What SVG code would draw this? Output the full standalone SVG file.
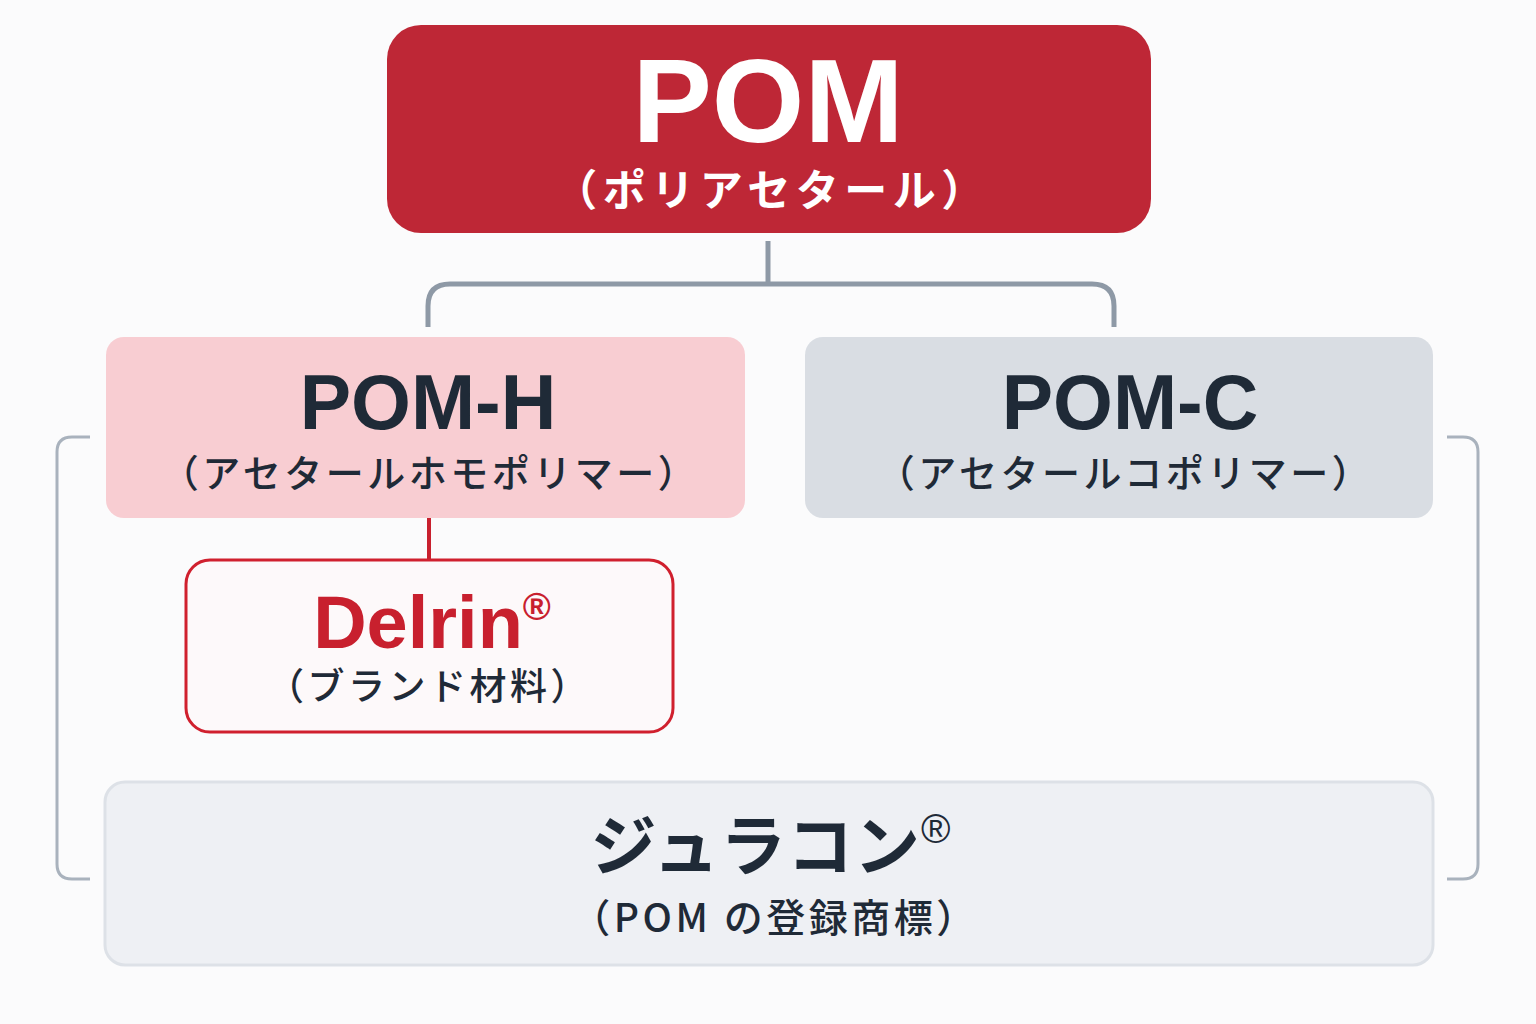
<svg xmlns="http://www.w3.org/2000/svg" width="1536" height="1024" viewBox="0 0 1536 1024">
<style>
.lat{font-family:"Liberation Sans",Arial,sans-serif;font-weight:bold;text-anchor:middle}
.jp{font-family:"Noto Sans CJK JP","Noto Sans",sans-serif;text-anchor:middle;font-weight:500}
.jpb{font-family:"Noto Sans CJK JP","Noto Sans",sans-serif;text-anchor:middle;font-weight:bold}
.dark{fill:#1F2A37}
.gray{fill:none;stroke:#8E99A6;stroke-width:5;stroke-linecap:butt}
.brk{fill:none;stroke:#A9B2BD;stroke-width:3}
.reg{font-family:"Liberation Sans",Arial,sans-serif;font-weight:normal}
</style>
<rect width="1536" height="1024" fill="#FBFBFC"/>
<g id="connectors">
<path class="gray" d="M768 241 V283"/>
<path class="gray" d="M428 327 V306 Q428 284 450 284 H1092 Q1114 284 1114 306 V327"/>
<path d="M429 518 V560" stroke="#C8202E" stroke-width="4" fill="none"/>
<path class="brk" d="M90 437 H72 Q57 437 57 452 V864 Q57 879 72 879 H90"/>
<path class="brk" d="M1447 437 H1463 Q1478 437 1478 452 V864 Q1478 879 1463 879 H1447"/>
</g>
<g id="pom">
<rect x="387" y="25" width="764" height="208" rx="34" fill="#BE2736"/>
<text x="768" y="142" class="lat" font-size="119" fill="#FFFFFF">POM</text>
<text x="772" y="206" class="jpb" font-size="43" fill="#FFFFFF" letter-spacing="5.5">（ポリアセタール）</text>
</g>
<g id="pomh">
<rect x="106" y="337" width="639" height="181" rx="18" fill="#F8CDD2"/>
<text x="428" y="429" class="lat dark" font-size="77">POM-H</text>
<text x="430" y="487" class="jp dark" font-size="38" letter-spacing="3.5">（アセタールホモポリマー）</text>
</g>
<g id="pomc">
<rect x="805" y="337" width="628" height="181" rx="18" fill="#D9DDE3"/>
<text x="1130" y="429" class="lat dark" font-size="77">POM-C</text>
<text x="1125" y="487" class="jp dark" font-size="38" letter-spacing="3.5">（アセタールコポリマー）</text>
</g>
<g id="delrin">
<rect x="186" y="560" width="487" height="172" rx="24" fill="#FDF9FA" stroke="#D0202E" stroke-width="3"/>
<text x="432" y="648" class="lat" font-size="74" fill="#C8202E">Delrin<tspan font-size="38" dy="-28">®</tspan></text>
<text x="429" y="700" class="jp dark" font-size="37" letter-spacing="3.5">（ブランド材料）</text>
</g>
<g id="duracon">
<rect x="105" y="782" width="1328" height="183" rx="20" fill="#EEF0F4" stroke="#DDE1E7" stroke-width="3"/>
<text x="771" y="870" class="jpb dark" font-size="66" letter-spacing="1">ジュラコン<tspan class="reg" font-size="40" dy="-27">®</tspan></text>
<text x="775" y="932" class="jp dark" font-size="39" letter-spacing="3.5">（POM の登録商標）</text>
</g>
</svg>
